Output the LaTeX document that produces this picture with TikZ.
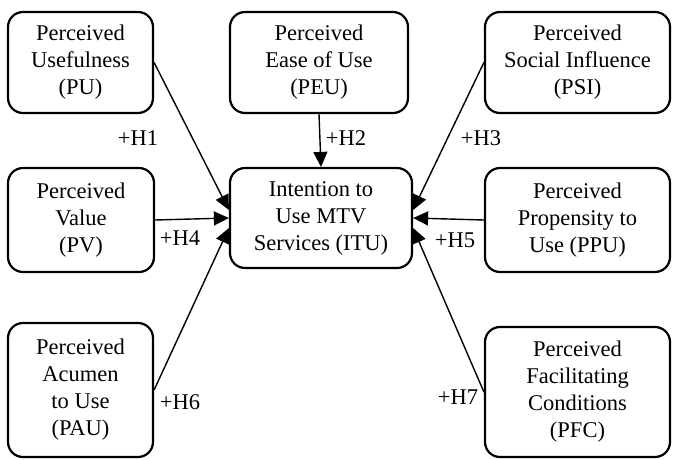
\documentclass[tikz,border=0pt]{standalone}
\usepackage{fontspec}
\setmainfont{Liberation Serif}
\usetikzlibrary{arrows.meta}

\begin{document}
\begin{tikzpicture}[x=1pt,y=-1pt,
	construct/.style={draw,line width=2.2pt,rounded corners=15pt,align=center,
		inner sep=0pt,font=\fontsize{22.5}{27}\selectfont},
	hyp/.style={font=\fontsize{22.5}{27}\selectfont,inner sep=0pt},
	link/.style={line width=1.4pt,-{Triangle[length=15pt,width=14pt]}}]
	\useasboundingbox (0,0) rectangle (673,459);
	\node[construct,minimum width=145pt,minimum height=101pt] (pu) at (80.5,62.5) {Perceived\\Usefulness\\(PU)};
	\node[construct,minimum width=178pt,minimum height=101pt] (peu) at (319,62.5) {Perceived\\Ease of Use\\(PEU)};
	\node[construct,minimum width=185pt,minimum height=101pt] (psi) at (577.5,62.5) {Perceived\\Social Influence\\(PSI)};
	\node[construct,minimum width=182pt,minimum height=100pt] (itu) at (321,218) {Intention to\\Use MTV\\Services (ITU)};
	\node[construct,minimum width=146pt,minimum height=104pt] (pv) at (81,220) {Perceived\\Value\\(PV)};
	\node[construct,minimum width=185pt,minimum height=104pt] (ppu) at (577.5,220) {Perceived\\Propensity to\\Use (PPU)};
	\node[construct,minimum width=145pt,minimum height=134pt] (pau) at (80.5,390) {Perceived\\Acumen\\to Use\\(PAU)};
	\node[construct,minimum width=185pt,minimum height=130pt] (pfc) at (577.5,392) {Perceived\\Facilitating\\Conditions\\(PFC)};

	\draw[link] (pu.east) -- ([yshift=8pt]itu.west);
	\draw[link] (peu.south) -- (itu.north);
	\draw[link] (psi.west) -- ([yshift=8pt]itu.east);
	\draw[link] (pv.east) -- (itu.west);
	\draw[link] (ppu.west) -- (itu.east);
	\draw[link] (pau.east) -- ([yshift=-10pt]itu.west);
	\draw[link] (pfc.west) -- ([yshift=-10pt]itu.east);

	\node[hyp] (h1) at (138,138) {+H1};
	\node[hyp] (h2) at (346,138) {+H2};
	\node[hyp] (h3) at (481,138) {+H3};
	\node[hyp] (h4) at (180,238) {+H4};
	\node[hyp] (h5) at (455,240) {+H5};
	\node[hyp] (h6) at (180,402) {+H6};
	\node[hyp] (h7) at (458,397) {+H7};
\end{tikzpicture}
\end{document}
